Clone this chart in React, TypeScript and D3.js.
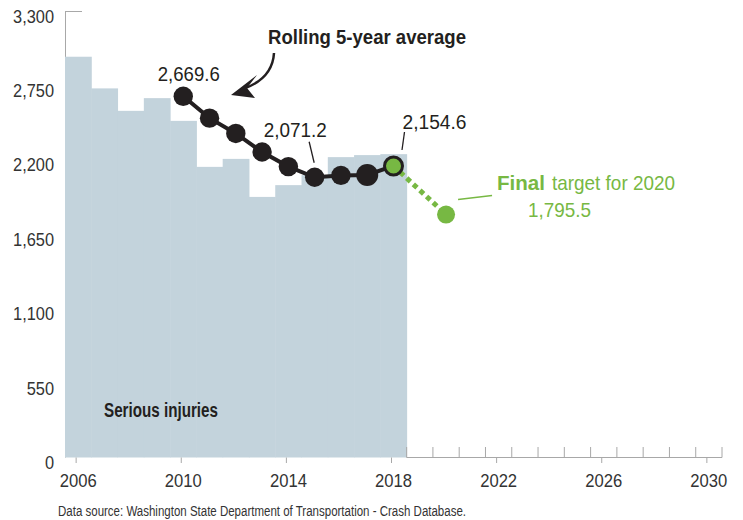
import React from "react";
import * as d3 from "d3";

const years = [2006, 2007, 2008, 2009, 2010, 2011, 2012, 2013, 2014, 2015, 2016, 2017, 2018];
const injuries = [2962, 2728, 2562, 2656, 2488, 2148, 2207, 1926, 2013, 2087, 2220, 2235, 2242];
const avgYears = [2010, 2011, 2012, 2013, 2014, 2015, 2016, 2017, 2018];
const rollingAvg = [2669.6, 2508, 2395, 2258, 2150, 2071.2, 2085, 2088, 2154.6];
const targetYear = 2020;
const targetValue = 1795.5;
const yTicks = [0, 550, 1100, 1650, 2200, 2750, 3300];
const xTicks = [2006, 2010, 2014, 2018, 2022, 2026, 2030];

const FONT = "'Liberation Sans', Arial, Helvetica, sans-serif";
const GREEN = "#77b843";
const BAR = "#c3d3dc";
const DARK = "#231f20";
const AXIS = "#a8a8a8";

type NT = {
  x: number;
  y: number;
  sx: number;
  size: number;
  anchor?: "start" | "middle" | "end";
  bold?: boolean;
  fill?: string;
  children: React.ReactNode;
};

function NText({ x, y, sx, size, anchor = "start", bold = false, fill = DARK, children }: NT) {
  return (
    <g transform={`translate(${x},${y}) scale(${sx},1)`}>
      <text x={0} y={0} textAnchor={anchor} fontFamily={FONT} fontSize={size} fontWeight={bold ? "bold" : "normal"} fill={fill}>
        {children}
      </text>
    </g>
  );
}

export default function App() {
  const W = 743, H = 520;
  const x = d3.scaleLinear().domain([2005.5, 2030.5]).range([65, 722]);
  const y = d3.scaleLinear().domain([0, 3300]).range([457.5, 11]);
  const step = x(1) - x(0);
  const fmt = d3.format(",.1f");
  const fmtInt = d3.format(",");

  const line = d3.line<number>().x((_, i) => x(avgYears[i])).y((d) => y(d));
  const last = rollingAvg.length - 1;
  const lx = x(avgYears[last]), ly = y(rollingAvg[last]);
  const tx = x(targetYear), ty = y(targetValue);
  const minor = d3.range(2018.5, 2030.51, 1);

  const p0x = x(avgYears[0]), p0y = y(rollingAvg[0]);
  const p5x = x(avgYears[5]), p5y = y(rollingAvg[5]);

  return (
    <svg width={W} height={H} style={{ position: "absolute", left: 0, top: 0, background: "#fff" }}>
      {/* y axis line */}
      <line x1={65.5} x2={65.5} y1={y(3300)} y2={y(0)} stroke={AXIS} strokeWidth={1} />
      <line x1={65.5} x2={82} y1={y(3300) + 0.5} y2={y(3300) + 0.5} stroke={AXIS} strokeWidth={1} />
      {/* bars */}
      {years.map((yr, i) => (
        <rect key={yr} x={x(yr - 0.5)} y={y(injuries[i])} width={step + 0.5} height={y(0) - y(injuries[i])} fill={BAR} />
      ))}
      {yTicks.map((t) => (
        <NText key={t} x={54} y={y(t) + 11.5} sx={0.91} size={18} anchor="end" fill="#333">
          {fmtInt(t)}
        </NText>
      ))}
      {/* x axis */}
      <line x1={x(2018.5)} x2={x(2030.5)} y1={457.5} y2={457.5} stroke={AXIS} strokeWidth={1} />
      {minor.map((m) => (
        <line key={m} x1={x(m)} x2={x(m)} y1={447} y2={457.5} stroke={AXIS} strokeWidth={1} />
      ))}
      {xTicks.map((t) => (
        <g key={t}>
          <line x1={x(t) - 2} x2={x(t) - 2} y1={457.5} y2={463} stroke={AXIS} strokeWidth={1} />
          <NText x={x(t)} y={486.5} sx={0.9} size={18.5} anchor="middle" fill="#333">
            {t}
          </NText>
        </g>
      ))}
      <text x={104} y={416.5} fontFamily={FONT} fontWeight="bold" fontSize={19.5} fill={DARK} textLength={114} lengthAdjust="spacingAndGlyphs">
        Serious injuries
      </text>

      {/* green dotted projection */}
      <line x1={lx} y1={ly} x2={tx} y2={ty} stroke={GREEN} strokeWidth={5} strokeDasharray="5 4" />
      {/* rolling average line */}
      <path d={line(rollingAvg) || ""} fill="none" stroke={DARK} strokeWidth={4} />
      {rollingAvg.slice(0, last).map((v, i) => (
        <circle key={i} cx={x(avgYears[i])} cy={y(v)} r={i === 7 ? 11 : 9.7} fill={DARK} />
      ))}
      <circle cx={lx} cy={ly} r={9} fill={GREEN} stroke={DARK} strokeWidth={3} />
      <circle cx={tx} cy={ty} r={9} fill={GREEN} />

      {/* value labels */}
      <text x={p0x - 25.5} y={p0y - 15.5} fontFamily={FONT} fontSize={20} fill={DARK} textLength={62} lengthAdjust="spacingAndGlyphs">
        {fmt(rollingAvg[0])}
      </text>
      <text x={p5x - 51} y={p5y - 40.5} fontFamily={FONT} fontSize={20} fill={DARK} textLength={63} lengthAdjust="spacingAndGlyphs">
        {fmt(rollingAvg[5])}
      </text>
      <line x1={p5x - 5.5} y1={p5y - 35.5} x2={p5x - 0.5} y2={p5y - 14.5} stroke={DARK} strokeWidth={1.3} />
      <text x={lx + 9} y={ly - 37} fontFamily={FONT} fontSize={20} fill={DARK} textLength={64} lengthAdjust="spacingAndGlyphs">
        {fmt(rollingAvg[last])}
      </text>
      <line x1={lx + 11} y1={ly - 34} x2={lx + 8.5} y2={ly - 16} stroke={DARK} strokeWidth={1.3} />

      {/* title annotation */}
      <text x={268} y={43.5} fontFamily={FONT} fontWeight="bold" fontSize={21} fill={DARK} textLength={198} lengthAdjust="spacingAndGlyphs">
        Rolling 5-year average
      </text>
      <path d="M274,53 C273,70 263,82 243,89" fill="none" stroke={DARK} strokeWidth={2.5} />
      <path d="M231,95 L257,75 L247,88 L255,98 Z" fill={DARK} />

      {/* target annotation */}
      <line x1={tx + 12} y1={ty - 15} x2={tx + 46} y2={ty - 19} stroke={GREEN} strokeWidth={1.5} />
      <text x={497} y={189.5} fontFamily={FONT} fontWeight="bold" fontSize={21} fill={GREEN} textLength={48} lengthAdjust="spacingAndGlyphs">
        Final
      </text>
      <text x={552} y={189.5} fontFamily={FONT} fontSize={21} fill={GREEN} textLength={123} lengthAdjust="spacingAndGlyphs">
        {`target for ${targetYear}`}
      </text>
      <text x={528} y={216.5} fontFamily={FONT} fontSize={21} fill={GREEN} textLength={63} lengthAdjust="spacingAndGlyphs">
        {fmt(targetValue)}
      </text>

      <text x={58} y={515.5} fontFamily={FONT} fontSize={14} fill="#333" textLength={408} lengthAdjust="spacingAndGlyphs">
        Data source: Washington State Department of Transportation - Crash Database.
      </text>
    </svg>
  );
}
